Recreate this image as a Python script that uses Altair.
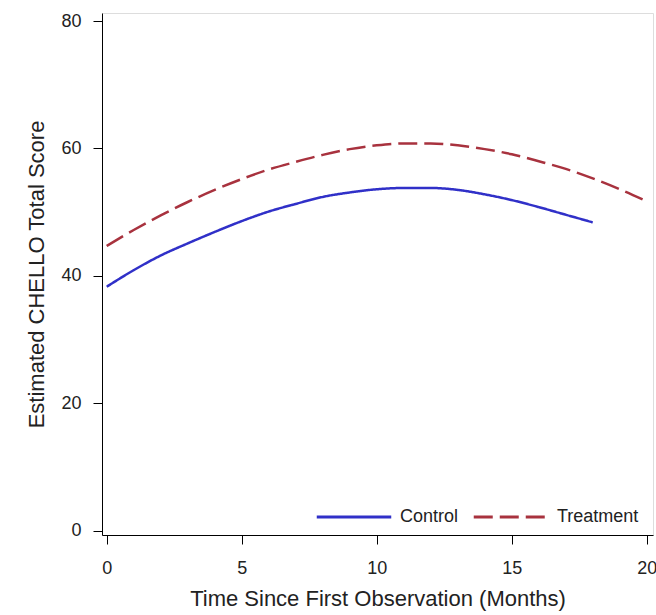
import altair as alt
import pandas as pd

months_control = list(range(0, 19))
control = [38.3, 40.9, 43.2, 45.1, 46.9, 48.6, 50.1, 51.3, 52.4, 53.1, 53.6,
           53.8, 53.8, 53.5, 52.8, 51.9, 50.8, 49.6, 48.4]
months_treat = list(range(0, 21))
treatment = [44.7, 47.2, 49.5, 51.6, 53.5, 55.2, 56.7, 57.9, 59.0, 59.9, 60.5,
             60.8, 60.8, 60.5, 59.9, 59.1, 58.0, 56.8, 55.3, 53.6, 51.7]
groups = ["Control", "Treatment"]
colors = ["#3030C8", "#A8323E"]

df = pd.DataFrame(
    {"month": months_control + months_treat,
     "score": control + treatment,
     "group": [groups[0]] * len(control) + [groups[1]] * len(treatment)}
)

FONT = "Liberation Sans"

legend_opts = dict(title=None, orient="none", legendX=213, legendY=465,
                   direction="horizontal",
                   symbolType="stroke", symbolSize=5550, symbolStrokeWidth=3,
                   labelFontSize=18, labelFont=FONT, labelColor="#222",
                   labelOffset=7, columnPadding=8, padding=0)

chart = alt.Chart(df).mark_line(strokeWidth=2.5, interpolate="monotone").encode(
    x=alt.X("month:Q",
            scale=alt.Scale(domain=[-0.174, 20.23], nice=False, zero=False),
            axis=alt.Axis(values=[0, 5, 10, 15, 20], title="Time Since First Observation (Months)",
                          grid=False, tickSize=9, labelPadding=15, titlePadding=11,
                          labelFontSize=18, titleFontSize=22, titleFontWeight="normal",
                          labelColor="#222", titleColor="#222", tickColor="black",
                          domainColor="black", labelFont=FONT, titleFont=FONT)),
    y=alt.Y("score:Q",
            scale=alt.Scale(domain=[-0.675, 81.27], nice=False, zero=False),
            axis=alt.Axis(values=[0, 20, 40, 60, 80], title="Estimated CHELLO Total Score",
                          grid=False, tickSize=9, labelPadding=12, titlePadding=12,
                          labelFontSize=18, titleFontSize=22, titleFontWeight="normal",
                          labelColor="#222", titleColor="#222", tickColor="black",
                          domainColor="black", labelFont=FONT, titleFont=FONT)),
    color=alt.Color("group:N", scale=alt.Scale(domain=groups, range=colors),
                    legend=alt.Legend(**legend_opts)),
    strokeDash=alt.StrokeDash("group:N", scale=alt.Scale(domain=groups, range=[[1, 0], [19, 7]]),
                              legend=alt.Legend(**legend_opts)),
).properties(
    width=551, height=522,
    autosize=alt.AutoSizeParams(type="none"),
    padding={"left": 102, "top": 13, "right": 3, "bottom": 80},
).configure_view(stroke="black", strokeWidth=1.2).configure(background="white")

chart.save("out.html", embed_options={"renderer": "svg", "actions": False})
